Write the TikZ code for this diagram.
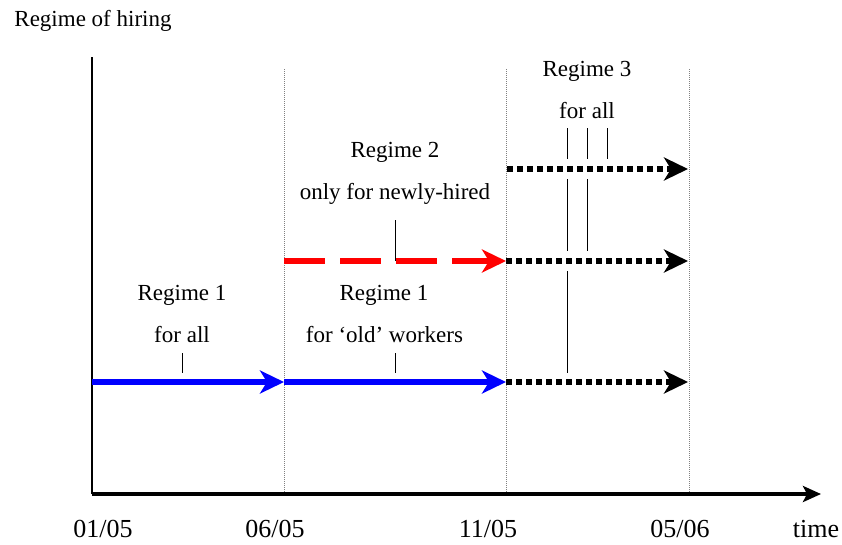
\documentclass[tikz,border=0pt]{standalone}
\usepackage{fontspec}
\setmainfont{Liberation Serif}
\usetikzlibrary{arrows.meta}
\begin{document}
\begin{tikzpicture}[x=1pt,y=-1pt,
  lbl/.style={font=\fontsize{23}{27}\selectfont, inner sep=0pt, anchor=base},
  datelbl/.style={font=\fontsize{26}{30}\selectfont, inner sep=0pt, anchor=base},
  bigtip/.style={-{Stealth[length=24pt,width=23pt,inset=7pt]}},
  bluearr/.style={bigtip, draw=blue, line width=5.5pt},
  redarr/.style={bigtip, draw=red, line width=5.5pt, dash pattern=on 41pt off 15pt},
  dotarr/.style={bigtip, draw=black, line width=5.5pt, dash pattern=on 6pt off 4pt},
  guide/.style={draw=gray, line width=0.8pt, dash pattern=on 1pt off 1pt},
  tick/.style={draw=black, line width=1pt}
]
\useasboundingbox (0,0) rectangle (842,544);

% axes
\coordinate (O) at (92,494);
\coordinate (ytop) at (92,57);
\coordinate (xend) at (821,494);
\draw[line width=1.3pt] (O) -- (ytop);
\draw[line width=3.3pt, -{Stealth[length=18pt,width=16pt,inset=4pt]}] (O) -- (xend);

% guides
\foreach \n/\x in {a/284,b/506.5,c/689}{
  \coordinate (g\n t) at (\x,69);
  \coordinate (g\n b) at (\x,492);
  \draw[guide] (g\n t) -- (g\n b);
}

% arrow points
\coordinate (b0) at (92,382);
\coordinate (b1) at (284,382);
\coordinate (b2) at (506,382);
\coordinate (b3) at (688,382);
\coordinate (r1) at (284,261);
\coordinate (r2) at (506,261);
\coordinate (r3) at (688,261);
\coordinate (k2) at (507,169);
\coordinate (k3) at (688,169);

\draw[bluearr] (b0) -- (b1);
\draw[bluearr] (b1) -- (b2);
\draw[redarr] (r1) -- (r2);
\draw[dotarr] (b2) -- (b3);
\draw[dotarr] (r2) -- (r3);
\draw[dotarr] (k2) -- (k3);

% labels
\node[lbl] (ylab) at (93,26) {Regime of hiring};
\node[lbl] (r1a) at (182,300.5) {Regime 1};
\node[lbl] (r1b) at (182,342.5) {for all};
\node[lbl] (r1c) at (384,300.5) {Regime 1};
\node[lbl] (r1d) at (384.5,342.5) {for ‘old’ workers};
\node[lbl] (r2a) at (395,157.5) {Regime 2};
\node[lbl] (r2b) at (395,199.5) {only for newly-hired};
\node[lbl] (r3a) at (587,76) {Regime 3};
\node[lbl] (r3b) at (587,118) {for all};

% ticks
\coordinate (t1a) at (182.7,353); \coordinate (t1b) at (182.7,373);
\coordinate (t2a) at (395,353); \coordinate (t2b) at (395,373);
\coordinate (t3a) at (395.3,220); \coordinate (t3b) at (395.3,261);
\draw[tick] (t1a) -- (t1b);
\draw[tick] (t2a) -- (t2b);
\draw[tick] (t3a) -- (t3b);
\foreach \i/\x in {1/567.7,2/587.7,3/607.7}{
  \coordinate (ua\i) at (\x,128); \coordinate (ub\i) at (\x,159);
  \draw[tick] (ua\i) -- (ub\i);
}
\foreach \i/\x in {1/567.7,2/587.7}{
  \coordinate (va\i) at (\x,179); \coordinate (vb\i) at (\x,251);
  \draw[tick] (va\i) -- (vb\i);
}
\coordinate (wa) at (567.7,271); \coordinate (wb) at (567.7,373);
\draw[tick] (wa) -- (wb);

% dates
\node[datelbl] (d1) at (103,537) {01/05};
\node[datelbl] (d2) at (275,537) {06/05};
\node[datelbl] (d3) at (488,537) {11/05};
\node[datelbl] (d4) at (680,537) {05/06};
\node[datelbl] (d5) at (816,537) {time};
\end{tikzpicture}
\end{document}
